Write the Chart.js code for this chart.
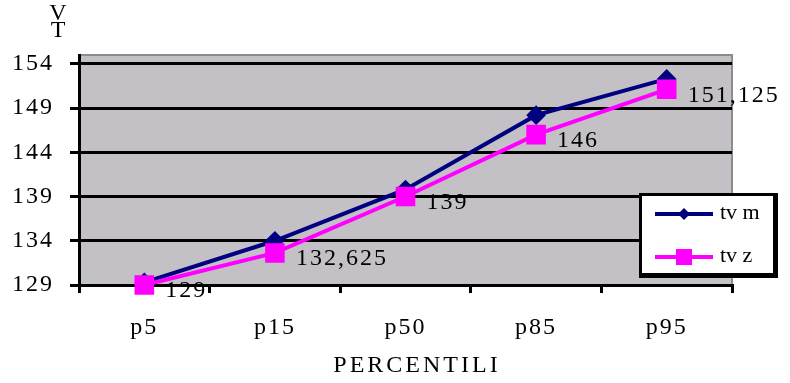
<!DOCTYPE html>
<html>
<head>
<meta charset="utf-8">
<script src="https://cdn.jsdelivr.net/npm/chart.js@4"></script>
<style>
  html, body { margin: 0; padding: 0; background: #fff; }
  #wrap { width: 790px; height: 383px; }
</style>
</head>
<body>
<div id="wrap"><canvas id="myChart" width="790" height="383"></canvas></div>
<script>
// data
const categories = ['p5', 'p15', 'p50', 'p85', 'p95'];
const tvM = [129.3, 134.0, 139.8, 148.2, 152.3];
const tvZ = [129, 132.625, 139, 146, 151.125];
const tvZLabels = ['129', '132,625', '139', '146', '151,125'];
const yTicks = [129, 134, 139, 144, 149, 154];

const serif = '"Liberation Serif", "Times New Roman", serif';
const spacing = '2px';

// letter spacing on the canvas (reset on every resize, so set it again before each pass)
const spacingPlugin = {
    id: 'spacing',
    beforeUpdate(chart) { chart.ctx.letterSpacing = spacing; },
    beforeDraw(chart) { chart.ctx.letterSpacing = spacing; }
};

const plotBg = {
    id: 'plotBg',
    beforeDraw(chart) {
        const { ctx, chartArea: a } = chart;
        ctx.save();
        ctx.fillStyle = '#C3C1C5';
        ctx.fillRect(a.left, a.top, a.right - a.left, a.bottom - a.top);
        ctx.strokeStyle = '#8c8c8c';
        ctx.lineWidth = 2;
        ctx.beginPath();
        ctx.moveTo(a.left, a.top);
        ctx.lineTo(a.right, a.top);
        ctx.lineTo(a.right, a.bottom);
        ctx.stroke();
        ctx.restore();
    }
};

const extras = {
    id: 'extras',
    afterDatasetsDraw(chart) {
        const ctx = chart.ctx;
        ctx.save();
        ctx.letterSpacing = spacing;
        ctx.fillStyle = '#000';
        ctx.font = '24px ' + serif;
        ctx.textAlign = 'left';
        ctx.textBaseline = 'middle';
        const meta = chart.getDatasetMeta(1);
        meta.data.forEach((pt, i) => {
            ctx.fillText(tvZLabels[i], pt.x + 21, pt.y + 6);
        });
        ctx.restore();
    },
    afterDraw(chart) {
        const ctx = chart.ctx;
        ctx.save();
        ctx.letterSpacing = '0px';
        ctx.fillStyle = '#000';
        ctx.font = '24px ' + serif;
        ctx.textAlign = 'center';
        ctx.textBaseline = 'middle';
        // axis titles
        ctx.fillText('V', 58, 14);
        ctx.fillText('T', 58, 31);
        ctx.letterSpacing = '3px';
        ctx.fillText('PERCENTILI', 417, 366);

        // legend box
        ctx.letterSpacing = '0px';
        ctx.fillStyle = '#000';
        ctx.fillRect(639, 193, 139, 85);
        ctx.fillStyle = '#fff';
        ctx.fillRect(642, 196, 131, 77);
        ctx.lineWidth = 4;
        ctx.strokeStyle = '#000080';
        ctx.beginPath(); ctx.moveTo(655, 214); ctx.lineTo(713, 214); ctx.stroke();
        ctx.fillStyle = '#000080';
        ctx.beginPath();
        ctx.moveTo(684, 208); ctx.lineTo(690, 214); ctx.lineTo(684, 220); ctx.lineTo(678, 214);
        ctx.closePath(); ctx.fill();
        ctx.strokeStyle = '#FF00FF';
        ctx.beginPath(); ctx.moveTo(655, 257); ctx.lineTo(713, 257); ctx.stroke();
        ctx.fillStyle = '#FF00FF';
        ctx.fillRect(676, 249, 16, 16);
        ctx.fillStyle = '#000';
        ctx.textAlign = 'left';
        ctx.font = '22px ' + serif;
        ctx.fillText('tv m', 720, 213);
        ctx.fillText('tv z', 720, 256);
        ctx.restore();
    }
};

new Chart(document.getElementById('myChart').getContext('2d'), {
    type: 'line',
    data: {
        labels: categories,
        datasets: [{
            label: 'tv m',
            data: tvM,
            borderColor: '#000080',
            backgroundColor: '#000080',
            borderWidth: 4,
            pointStyle: 'rectRot',
            pointRadius: 7,
            tension: 0,
            clip: false,
            order: 1
        }, {
            label: 'tv z',
            data: tvZ,
            borderColor: '#FF00FF',
            backgroundColor: '#FF00FF',
            borderWidth: 4,
            pointStyle: 'rect',
            pointRadius: 11,
            tension: 0,
            clip: false,
            order: 0
        }]
    },
    options: {
        responsive: false,
        animation: false,
        layout: { padding: { top: 55, right: 58, left: 0, bottom: 0 } },
        plugins: {
            legend: { display: false },
            tooltip: { enabled: false }
        },
        scales: {
            x: {
                offset: true,
                afterFit(scale) { scale.height = 98; },
                grid: {
                    offset: true,
                    drawOnChartArea: false,
                    color: '#000',
                    lineWidth: 3,
                    tickLength: 8
                },
                border: { color: '#000', width: 3 },
                ticks: {
                    color: '#000',
                    padding: 20,
                    font: { family: serif, size: 24 },
                    maxRotation: 0
                }
            },
            y: {
                min: 129,
                max: 155,
                afterFit(scale) { scale.width = 79; },
                afterBuildTicks(scale) { scale.ticks = yTicks.map(v => ({ value: v })); },
                grid: {
                    color: '#000',
                    lineWidth: 3,
                    tickLength: 9
                },
                border: { color: '#000', width: 3 },
                ticks: {
                    color: '#000',
                    padding: 16,
                    font: { family: serif, size: 24 }
                }
            }
        }
    },
    plugins: [spacingPlugin, plotBg, extras]
});
</script>
</body>
</html>
